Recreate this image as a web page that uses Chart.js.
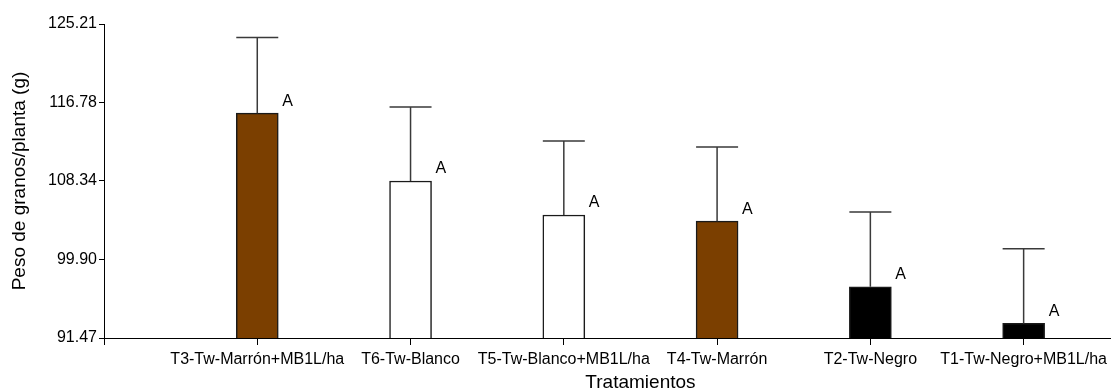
<!DOCTYPE html>
<html>
<head>
<meta charset="utf-8">
<script src="https://cdn.jsdelivr.net/npm/chart.js@4/dist/chart.umd.min.js"></script>
<style>
  html, body { margin: 0; padding: 0; background: #fff; }
  canvas { display: block; }
</style>
</head>
<body>
<canvas id="chart" width="1111" height="391"></canvas>
<script>
const categories = [
  "T3-Tw-Marrón+MB1L/ha",
  "T6-Tw-Blanco",
  "T5-Tw-Blanco+MB1L/ha",
  "T4-Tw-Marrón",
  "T2-Tw-Negro",
  "T1-Tw-Negro+MB1L/ha",
];
const means = [115.63, 108.34, 104.69, 104.02, 96.97, 93.04];
const upperErr = [123.75, 116.28, 112.63, 111.99, 105.02, 101.05];
const letters = ["A", "A", "A", "A", "A", "A"];
const yTicks = [91.47, 99.90, 108.34, 116.78, 125.21];
const xTitle = "Tratamientos";

const barColors = ["#7b3f00", "#ffffff", "#ffffff", "#7b3f00", "#000000", "#000000"];

Chart.defaults.font.family = '"Liberation Sans", Arial, sans-serif';
Chart.defaults.color = "#000";

// vertical error line + cap, the letter next to each bar, and the x title
// centred under the middle of the categories (not the whole axis)
const errorBars = {
  id: "errorBars",
  afterDatasetsDraw(chart) {
    const ctx = chart.ctx;
    const y = chart.scales.y;
    const meta = chart.getDatasetMeta(0);
    ctx.save();
    meta.data.forEach((bar, i) => {
      const top = y.getPixelForValue(upperErr[i]);
      const half = bar.width / 2;
      ctx.strokeStyle = "#3a3a3a";
      ctx.lineWidth = 1.5;
      ctx.beginPath();
      ctx.moveTo(bar.x, bar.y);
      ctx.lineTo(bar.x, top);
      ctx.moveTo(bar.x - half, top);
      ctx.lineTo(bar.x + half, top);
      ctx.stroke();

      ctx.fillStyle = "#000";
      ctx.font = '16px "Liberation Sans", Arial, sans-serif';
      ctx.textAlign = "left";
      ctx.textBaseline = "middle";
      ctx.fillText(letters[i], bar.x + half + 4, bar.y - 12);
    });
    ctx.restore();
  },
  afterDraw(chart) {
    const ctx = chart.ctx;
    const x = chart.scales.x;
    ctx.save();
    ctx.fillStyle = "#000";
    ctx.font = '19px "Liberation Sans", Arial, sans-serif';
    ctx.textAlign = "center";
    ctx.textBaseline = "middle";
    ctx.fillText(xTitle, x.getPixelForValue((categories.length + 1) / 2), x.bottom - 8);
    ctx.restore();
  },
};

new Chart(document.getElementById("chart"), {
  type: "bar",
  data: {
    datasets: [{
      data: means.map((v, i) => ({ x: i + 1, y: v })),
      backgroundColor: barColors,
      borderColor: "#1a1a1a",
      borderWidth: 1.5,
      barThickness: 42,
    }],
  },
  options: {
    responsive: false,
    animation: false,
    layout: { padding: { top: 24, left: 0, right: 0, bottom: 0 } },
    plugins: { legend: { display: false }, tooltip: { enabled: false } },
    scales: {
      x: {
        type: "linear",
        min: 0,
        max: 6.57,
        offset: false,
        afterBuildTicks: (s) => {
          s.ticks = [{ value: 0 }].concat(categories.map((c, i) => ({ value: i + 1 })));
        },
        afterFit: (s) => {
          s.height = 53;
          s.paddingLeft = 0;
          s.paddingRight = 0;
        },
        ticks: {
          callback: (v) => categories[v - 1] || "",
          autoSkip: false,
          maxRotation: 0,
          minRotation: 0,
          padding: 5,
          font: { size: 16 },
        },
        grid: { offset: false, drawOnChartArea: false, tickLength: 7, color: "#000" },
        border: { color: "#000", width: 1 },
        title: { display: false },
      },
      y: {
        min: 91.47,
        max: 125.21,
        afterBuildTicks: (s) => {
          s.ticks = yTicks.map((v) => ({ value: v }));
        },
        afterFit: (s) => {
          s.width = 104;
          s.paddingTop = 0;
          s.paddingBottom = 0;
        },
        ticks: {
          callback: (v) => v.toFixed(2),
          padding: 2,
          font: { size: 16 },
        },
        grid: { drawOnChartArea: false, tickLength: 5, color: "#000" },
        border: { color: "#000", width: 1 },
        title: {
          display: true,
          text: "Peso de granos/planta (g)",
          font: { size: 19 },
          padding: { top: 8, bottom: 0 },
        },
      },
    },
  },
  plugins: [errorBars],
});
</script>
</body>
</html>
